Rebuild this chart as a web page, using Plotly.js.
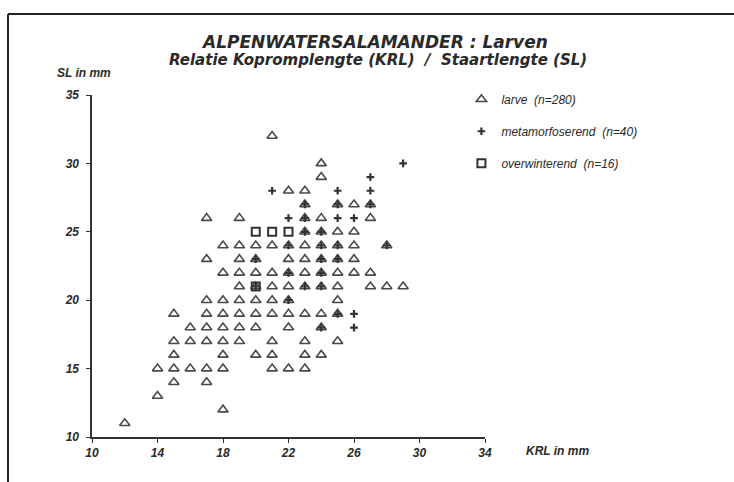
<!DOCTYPE html>
<html>
<head>
<meta charset="utf-8">
<script src="https://cdn.plot.ly/plotly-3.0.1.min.js"></script>
<style>html,body{margin:0;padding:0;background:#fff;}#chart{width:734px;height:482px;}</style>
</head>
<body>
<div id="chart"></div>
<script>
// larve (triangles)
const larveX = [21, 24, 24, 22,23, 23,25,26,27, 17,19,23,24,27, 23,24,25,26,
  18,19,20,21,22,23,24,25,26,28, 17,19,20,22,23,24,25,26,
  18,19,20,21,22,23,24,25,26,27, 19,20,21,22,23,24,25,27,28,29,
  17,18,19,20,21,22,25, 15,17,18,19,20,21,22,23,24,25,
  16,17,18,19,20,22,24, 15,16,17,18,19,21,23,25,
  15,18,20,21,23,24, 14,15,16,17,18,21,22,23, 15,17, 14, 18, 12];
const larveY = [32, 30, 29, 28,28, 27,27,27,27, 26,26,26,26,26, 25,25,25,25,
  24,24,24,24,24,24,24,24,24,24, 23,23,23,23,23,23,23,23,
  22,22,22,22,22,22,22,22,22,22, 21,21,21,21,21,21,21,21,21,21,
  20,20,20,20,20,20,20, 19,19,19,19,19,19,19,19,19,19,
  18,18,18,18,18,18,18, 17,17,17,17,17,17,17,17,
  16,16,16,16,16,16, 15,15,15,15,15,15,15,15, 14,14, 13, 12, 11];
// metamorfoserend (plus)
const metaX = [21,22,25,27,27,29,25,26,26,26,
  23,25,27,23,23,24,22,24,25,28,20,24,25,22,24,23,24,22,25,24,20];
const metaY = [28,26,28,28,29,30,26,26,19,18,
  27,27,27,26,25,25,24,24,24,24,23,23,23,22,22,21,21,20,19,18,21];
// overwinterend (squares)
const overX = [20,21,22,20];
const overY = [25,25,25,21];

const xTicks = [10,14,18,22,26,30,34];
const yTicks = [10,15,20,25,30,35];
const legendNames = ['larve\u00a0\u00a0(n=280)', 'metamorfoserend\u00a0\u00a0(n=40)', 'overwinterend\u00a0\u00a0(n=16)'];

const FONT = 'Liberation Sans, Arial, sans-serif';
const WIDE = 'DejaVu Sans, Liberation Sans, sans-serif';
const INK = '#2a2a2a';

const traces = [
  {x: larveX, y: larveY, type: 'scatter', mode: 'markers', name: legendNames[0], legendgroup: 'a',
   marker: {symbol: 'triangle-up-open', size: 9, color: '#4a4a4a', line: {width: 1.6, color: '#4a4a4a'}}},
  {x: metaX, y: metaY, type: 'scatter', mode: 'markers', name: legendNames[1], legendgroup: 'b',
   marker: {symbol: 'cross-thin-open', size: 5.5, color: '#333', line: {width: 2.2, color: '#333'}}},
  {x: overX, y: overY, type: 'scatter', mode: 'markers', name: legendNames[2], legendgroup: 'c',
   marker: {symbol: 'square-open', size: 8, color: '#333', line: {width: 2, color: '#333'}}}
];

function bi(s){ return '<b><i>' + s + '</i></b>'; }

const layout = {
  width: 734, height: 482,
  margin: {l: 92, r: 249, t: 95, b: 45},
  paper_bgcolor: '#fff', plot_bgcolor: '#fff',
  font: {family: FONT, color: INK, size: 11},
  showlegend: true,
  legend: {x: 0.94, xanchor: 'left', y: 1.03, yanchor: 'top', tracegroupgap: 13,
    font: {family: FONT, size: 12, color: INK, style: 'italic'}, bgcolor: 'rgba(0,0,0,0)'},
  xaxis: {range: [10, 34], tickvals: xTicks, ticktext: xTicks.map(v => bi(v)), showgrid: false, zeroline: false,
    showline: true, linecolor: '#333', linewidth: 1.6, ticks: 'outside', ticklen: 4, tickcolor: '#333',
    tickfont: {family: FONT, size: 12, color: INK}},
  yaxis: {range: [10, 35], tickvals: yTicks, ticktext: yTicks.map(v => bi(v)), showgrid: false, zeroline: false,
    showline: true, linecolor: '#333', linewidth: 1.6, ticks: 'outside', ticklen: 4, tickcolor: '#333',
    ticklabelstandoff: 5, tickfont: {family: FONT, size: 12, color: INK}},
  annotations: [
    {text: bi('ALPENWATERSALAMANDER : Larven'), xref: 'paper', yref: 'paper', x: 0.72, y: 1.155,
     xanchor: 'center', yanchor: 'middle', showarrow: false, font: {family: WIDE, size: 17, color: INK}},
    {text: bi('Relatie Kopromplengte (KRL)  /  Staartlengte (SL)'), xref: 'paper', yref: 'paper', x: 0.727, y: 1.103,
     xanchor: 'center', yanchor: 'middle', showarrow: false, font: {family: WIDE, size: 15, color: INK}},
    {text: bi('SL in mm'), xref: 'paper', yref: 'paper', x: -0.095, y: 1.063,
     xanchor: 'left', yanchor: 'middle', showarrow: false, font: {family: FONT, size: 12, color: INK}},
    {text: bi('KRL in mm'), xref: 'paper', yref: 'paper', x: 1.098, y: -0.04,
     xanchor: 'left', yanchor: 'middle', showarrow: false, font: {family: FONT, size: 12, color: INK}}
  ],
  shapes: [
    {type: 'line', xref: 'paper', yref: 'paper', x0: -0.2137, x1: 1.64, y0: 1.2368, y1: 1.2368, line: {color: '#222', width: 2}},
    {type: 'line', xref: 'paper', yref: 'paper', x0: -0.2137, x1: -0.2137, y0: 1.2368, y1: -0.14, line: {color: '#222', width: 2}}
  ]
};

Plotly.newPlot('chart', traces, layout, {displayModeBar: false, staticPlot: true});
</script>
</body>
</html>
